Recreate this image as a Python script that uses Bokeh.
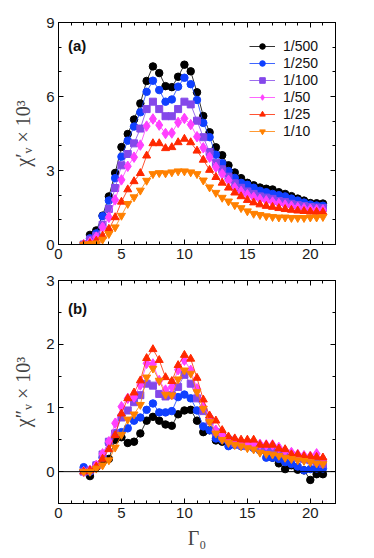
from bokeh.plotting import figure
from bokeh.layouts import column
from bokeh.models import (Range1d, FixedTicker, LinearAxis, Span, Label,
                          CustomLabelingPolicy)
from bokeh.embed import file_html
from bokeh.resources import INLINE

# ---------------- data ----------------
G0 = [2.0, 2.5, 3.0, 3.5, 4.0, 4.5, 5.0, 5.5, 6.0, 6.5, 7.0, 7.5, 8.0, 8.5, 9.0,
      9.5, 10.0, 10.5, 11.0, 11.5, 12.0, 12.5, 13.0, 13.5, 14.0, 14.5, 15.0, 15.5,
      16.0, 16.5, 17.0, 17.5, 18.0, 18.5, 19.0, 19.5, 20.0, 20.5, 21.0]

labels = ["1/500", "1/250", "1/100", "1/50", "1/25", "1/10"]

# panel (a): chi'_v x 10^3
chi1_500 = [0.0, 0.39, 0.57, 1.17, 1.95, 2.9, 3.95, 4.48, 5.07, 5.72, 6.63, 7.22, 6.95, 6.42, 6.38,
            6.8, 7.29, 7.02, 6.17, 5.21, 4.55, 3.94, 3.62, 3.21, 2.92, 2.69, 2.5, 2.4,
            2.31, 2.26, 2.23, 2.12, 2.05, 1.96, 1.86, 1.78, 1.68, 1.67, 1.66]
chi1_250 = [0.0, 0.25, 0.45, 1.15, 1.78, 2.69, 3.56, 4.21, 4.78, 5.36, 6.19, 6.64, 6.26, 5.79, 5.88,
            6.4, 6.76, 6.5, 5.86, 4.93, 4.35, 3.64, 3.3, 2.98, 2.7, 2.5, 2.42, 2.3,
            2.18, 2.12, 2.05, 2.0, 1.95, 1.86, 1.78, 1.7, 1.62, 1.58, 1.57]
chi1_100 = [0.0, 0.2, 0.35, 0.8, 1.44, 2.29, 3.21, 3.67, 4.1, 4.7, 5.49, 5.79, 5.49, 5.2, 5.2,
            5.49, 5.79, 5.68, 5.02, 4.35, 3.75, 3.3, 3.05, 2.75, 2.48, 2.3, 2.15, 2.05,
            1.95, 1.9, 1.85, 1.76, 1.72, 1.65, 1.6, 1.56, 1.52, 1.5, 1.48]
chi1_50 = [0.0, 0.1, 0.3, 0.7, 1.1, 1.81, 2.62, 3.17, 3.54, 4.03, 4.8, 5.09, 4.84, 4.5, 4.52,
           4.95, 5.11, 4.86, 4.37, 3.92, 3.54, 3.13, 2.86, 2.6, 2.3, 2.15, 2.02, 1.92,
           1.83, 1.77, 1.72, 1.66, 1.6, 1.55, 1.5, 1.46, 1.43, 1.41, 1.4]
chi1_25 = [0.0, 0.05, 0.15, 0.35, 0.63, 1.1, 1.73, 2.23, 2.56, 2.89, 3.6, 4.1, 4.1, 3.9, 3.94,
           4.14, 4.28, 4.14, 3.8, 3.43, 3.02, 2.73, 2.5, 2.3, 2.1, 1.95, 1.8, 1.7,
           1.62, 1.56, 1.52, 1.47, 1.43, 1.4, 1.37, 1.35, 1.33, 1.32, 1.31]
chi1_10 = [0.0, 0.02, 0.05, 0.2, 0.43, 0.7, 1.17, 1.65, 1.92, 2.19, 2.59, 2.86, 2.9, 2.89, 2.93,
           2.97, 2.97, 2.93, 2.86, 2.6, 2.32, 2.1, 1.9, 1.75, 1.6, 1.48, 1.35, 1.25,
           1.2, 1.15, 1.12, 1.1, 1.1, 1.08, 1.08, 1.08, 1.1, 1.1, 1.12]

# panel (b): chi''_v x 10^3
chi2_500 = [0.02, -0.07, 0.07, 0.15, 0.2, 0.5, 0.54, 0.45, 0.47, 0.6, 0.8, 0.86, 0.8, 0.74, 0.72,
            0.9, 0.96, 0.97, 0.8, 0.62, 0.65, 0.49, 0.47, 0.45, 0.45, 0.43, 0.4, 0.38,
            0.35, 0.33, 0.22, 0.13, 0.04, 0.1, 0.03, 0.02, -0.13, -0.04, -0.04]
chi2_250 = [0.07, 0.0, 0.1, 0.22, 0.45, 0.6, 0.62, 0.68, 0.8, 0.85, 0.97, 1.07, 0.93, 0.93, 0.95,
            1.17, 1.21, 1.15, 0.96, 0.71, 0.65, 0.52, 0.5, 0.4, 0.42, 0.4, 0.4, 0.37,
            0.33, 0.22, 0.22, 0.2, 0.15, 0.12, 0.08, 0.02, 0.04, 0.05, 0.05]
chi2_100 = [0.0, 0.02, 0.1, 0.27, 0.47, 0.6, 0.85, 0.96, 1.09, 1.2, 1.38, 1.35, 1.22, 1.18, 1.2,
            1.33, 1.52, 1.38, 1.15, 0.95, 0.8, 0.62, 0.55, 0.5, 0.45, 0.42, 0.4, 0.4,
            0.38, 0.36, 0.33, 0.3, 0.28, 0.25, 0.22, 0.2, 0.18, 0.15, 0.12]
chi2_50 = [0.0, 0.02, 0.1, 0.28, 0.47, 0.76, 1.02, 1.15, 1.17, 1.36, 1.7, 1.69, 1.43, 1.28, 1.33,
           1.6, 1.75, 1.59, 1.3, 1.02, 0.86, 0.65, 0.58, 0.52, 0.5, 0.47, 0.45, 0.44,
           0.43, 0.42, 0.42, 0.38, 0.33, 0.3, 0.27, 0.25, 0.24, 0.28, 0.2]
chi2_25 = [0.0, 0.02, 0.08, 0.2, 0.35, 0.57, 0.91, 1.15, 1.24, 1.43, 1.78, 1.92, 1.75, 1.48, 1.42,
           1.67, 1.83, 1.77, 1.47, 1.13, 0.88, 0.8, 0.65, 0.55, 0.52, 0.5, 0.5, 0.5,
           0.42, 0.42, 0.42, 0.36, 0.35, 0.27, 0.27, 0.24, 0.24, 0.23, 0.22]
chi2_10 = [0.0, 0.0, 0.05, 0.1, 0.18, 0.38, 0.58, 0.82, 0.9, 1.05, 1.48, 1.62, 1.43, 1.21, 1.2,
           1.45, 1.59, 1.54, 1.25, 0.99, 0.78, 0.6, 0.5, 0.45, 0.42, 0.4, 0.37, 0.35,
           0.3, 0.28, 0.27, 0.25, 0.22, 0.2, 0.18, 0.17, 0.15, 0.13, 0.12]

panel_a = [chi1_500, chi1_250, chi1_100, chi1_50, chi1_25, chi1_10]
panel_b = [chi2_500, chi2_250, chi2_100, chi2_50, chi2_25, chi2_10]

x_major = [0, 5, 10, 15, 20]
x_minor = list(range(0, 23))
ya_major = [0, 3, 6, 9]
ya_minor = list(range(0, 10))
yb_major = [0, 1, 2, 3]
yb_minor = [-0.5, 0, 0.5, 1, 1.5, 2, 2.5, 3]

# ---------------- styles ----------------
colors = ["#000000", "#1040ff", "#8448ea", "#ff40ff", "#ff2800", "#ff8000"]
markers = ["circle", "circle", "square", "diamond", "triangle", "inverted_triangle"]
sizes = [7.5, 7.5, 7, 10.5, 8, 8]
SANS = "Liberation Sans"
SERIF = "Liberation Serif"

HIDE_LABELS = "const all = Array.from(indices); for (const i of all) indices.unset(i)"


def style_axis(ax, show_labels=True):
    ax.major_tick_in = 5
    ax.major_tick_out = 0
    ax.minor_tick_in = 3
    ax.minor_tick_out = 0
    ax.axis_line_color = "black"
    ax.major_tick_line_color = "black"
    ax.minor_tick_line_color = "black"
    if show_labels:
        ax.major_label_text_font = SANS
        ax.major_label_text_font_size = "15px"
        ax.major_label_text_color = "#1a1a1a"
        ax.major_label_standoff = 4
    else:
        ax.major_label_text_font_size = "1px"
        ax.major_label_standoff = 0
        ax.major_label_policy = CustomLabelingPolicy(code=HIDE_LABELS)


def make_fig(yrange, ymaj, ymin, fh, top, bottom):
    p = figure(frame_width=277, frame_height=fh,
               x_range=Range1d(0, 22), y_range=Range1d(*yrange),
               output_backend="svg", toolbar_location=None,
               min_border_left=58, min_border_right=39,
               min_border_top=top, min_border_bottom=bottom)
    p.grid.visible = False
    p.outline_line_color = "black"
    p.outline_line_width = 1
    xax = p.below[0]
    yax = p.left[0]
    xax.ticker = FixedTicker(ticks=x_major, minor_ticks=x_minor)
    yax.ticker = FixedTicker(ticks=ymaj, minor_ticks=ymin)
    style_axis(xax)
    style_axis(yax)
    top_ax = LinearAxis(ticker=FixedTicker(ticks=x_major, minor_ticks=x_minor))
    right_ax = LinearAxis(ticker=FixedTicker(ticks=ymaj, minor_ticks=ymin))
    style_axis(top_ax, False)
    style_axis(right_ax, False)
    p.add_layout(top_ax, "above")
    p.add_layout(right_ax, "right")
    yax.axis_label_text_font = SERIF
    yax.axis_label_text_font_style = "normal"
    yax.axis_label_text_font_size = "20px"
    yax.axis_label_standoff = 9
    return p, xax, yax


p1, x1, y1 = make_fig((0, 9), ya_major, ya_minor, 222, 22, 22)
y1.axis_label = "χ′ᵥ × 10³"
for lab, ys, c, m, s in zip(labels, panel_a, colors, markers, sizes):
    p1.line(G0, ys, line_color=c, line_width=1, line_alpha=0.8, legend_label=lab)
    p1.scatter(G0, ys, marker=m, size=s, fill_color=c, line_color=c, legend_label=lab)
p1.add_layout(Label(x=0.75, y=8.05, text="(a)", text_font=SANS, text_font_style="bold",
                    text_font_size="15px", text_baseline="middle", text_color="#111111"))
lg = p1.legend[0]
lg.location = (191, 105)
lg.margin = 0
lg.padding = 4
lg.spacing = 1
lg.glyph_width = 26
lg.glyph_height = 14
lg.label_height = 14
lg.label_standoff = 8
lg.label_text_font = SANS
lg.label_text_font_size = "14px"
lg.label_text_color = "#111111"
lg.border_line_color = None
lg.background_fill_alpha = 0

p2, x2, y2 = make_fig((-0.5, 3), yb_major, yb_minor, 223, 14, 47)
y2.axis_label = "χ″ᵥ × 10³"
x2.axis_label = "Γ₀"
x2.axis_label_text_font = SERIF
x2.axis_label_text_font_style = "normal"
x2.axis_label_text_font_size = "20px"
x2.axis_label_standoff = 6
p2.add_layout(Span(location=0, dimension="width", line_color="black", line_width=1))
for ys, c, m, s in zip(panel_b, colors, markers, sizes):
    p2.line(G0, ys, line_color=c, line_width=1, line_alpha=0.8)
    p2.scatter(G0, ys, marker=m, size=s, fill_color=c, line_color=c)
p2.add_layout(Label(x=0.75, y=2.56, text="(b)", text_font=SANS, text_font_style="bold",
                    text_font_size="15px", text_baseline="middle", text_color="#111111"))

layout = column(p1, p2, spacing=0)
open("out.html", "w").write(file_html(layout, INLINE))
